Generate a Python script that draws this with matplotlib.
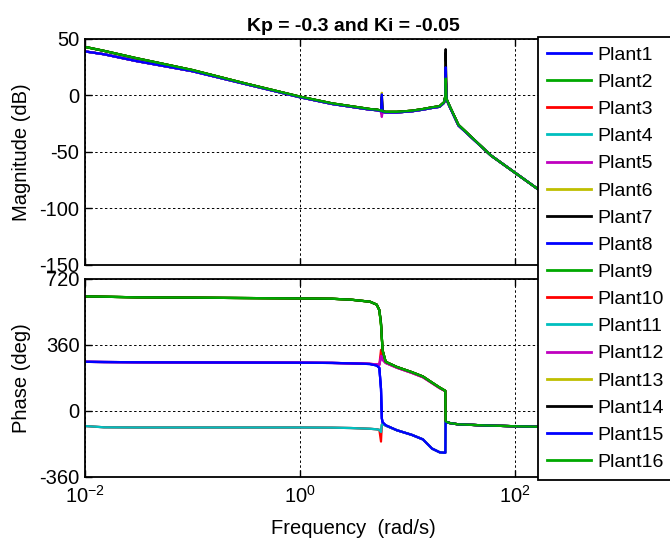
import numpy as np
import matplotlib
matplotlib.use("Agg")
import matplotlib.pyplot as plt
from matplotlib.ticker import FixedLocator, NullLocator

plt.rcParams["font.family"] = ["Liberation Sans", "DejaVu Sans"]
plt.rcParams["axes.unicode_minus"] = False

# frequency points (rad/s)
w = [0.01, 0.015, 0.03, 0.1, 0.3, 1, 2, 3, 4.5, 5.2, 5.5, 5.7, 5.8, 5.9, 6.3,
     8, 11, 14, 17, 20, 22, 22.6, 22.8, 23.2, 25, 30, 60, 160, 1000]

# magnitude (dB), two base shapes
mag_hi = [43, 39.5, 33, 22.5, 11, -1, -7, -9.5, -12, -12.5, -13, -13.5, -13.5, -14, -14.5,
          -14.5, -13.5, -12, -10.5, -9.5, -6, -1, -1, -3, -10, -26, -53, -82, -130]
mag_lo = [39, 36.5, 30.5, 21.5, 10.5, -1.5, -7.5, -10, -12.5, -13, -13.5, -14, -14, -14.5, -15,
          -15, -14, -12.5, -11, -10, -6.5, -1.5, -1.5, -3.5, -10.5, -26.5, -53, -82, -130]

# per plant values at 5.8 rad/s and at the 22.8 rad/s resonance
mag_spike = [-8, -14, -16, -15, -17, 0, -3, -10, -14, -16, -15, -19, 2.4, -1, 1, -13]
mag_peak = [20, 12, 18, 16, 20, 28, 38, 20, 14, 18, 16, 20, 30, 41, 25, 15]

# phase (deg), four shapes
phase_hi = [625, 623, 620, 618, 616, 614, 612, 607, 596, 580, 550, 470, 400, 330, 268,
            240, 212, 188, 155, 128, 114, 110, -55, -60, -66, -73, -80, -86, -90]
phase_mid_up = [268, 267, 266, 265, 264, 263, 262, 260, 257, 254, 252, 300, 300, 280, 262,
                236, 208, 184, 152, 125, 112, 108, -55, -60, -66, -73, -80, -86, -90]
phase_mid_down = [268, 267, 266, 265, 264, 263, 262, 260, 256, 248, 235, 120, -40, -62, -78,
                  -105, -130, -155, -205, -225, -228, -228, -58, -62, -66, -73, -80, -86, -90]
phase_lo_down = [-82, -89, -90, -90, -90, -90, -91, -93, -97, -100, -103, -120, -75, -70, -80,
                 -105, -130, -155, -205, -225, -228, -228, -58, -62, -66, -73, -80, -86, -90]

# per plant phase value at 5.7 rad/s
phase_spike = [120, 470, 333, -120, 300, 470, 480, 120, 470, -167, -115, 290, 470, 480, 120, 470]

mag_group = ["lo", "hi", "lo", "lo", "lo", "hi", "hi", "lo",
             "hi", "lo", "lo", "lo", "hi", "hi", "lo", "hi"]
phase_group = ["mid_down", "hi", "mid_up", "lo_down", "mid_up", "hi", "hi", "mid_down",
               "hi", "lo_down", "lo_down", "mid_up", "hi", "hi", "mid_down", "hi"]

names = ["Plant%d" % (i + 1) for i in range(16)]
colors = ["#0000ff", "#00a800", "#ff0000", "#00bfbf", "#bf00bf", "#bfbf00", "#000000"]

mag_curves = {"hi": mag_hi, "lo": mag_lo}
phase_curves = {"hi": phase_hi, "mid_up": phase_mid_up,
                "mid_down": phase_mid_down, "lo_down": phase_lo_down}

fig = plt.figure(figsize=(6.7, 5.4), dpi=100)
ax1 = fig.add_axes([0.1269, 0.5093, 0.8015, 0.4185])
ax2 = fig.add_axes([0.1269, 0.1167, 0.8015, 0.3667])

for i in range(16):
    mag = np.array(mag_curves[mag_group[i]], dtype=float)
    mag[12] = mag_spike[i]
    mag[22] = mag_peak[i]
    ph = np.array(phase_curves[phase_group[i]], dtype=float)
    ph[11] = phase_spike[i]
    c = colors[i % 7]
    ax1.semilogx(w, mag, color=c, lw=1.6, label=names[i])
    ax2.semilogx(w, ph, color=c, lw=1.6)

for ax in (ax1, ax2):
    ax.set_xlim(0.01, 1000)
    ax.xaxis.set_major_locator(FixedLocator([1e-2, 1e0, 1e2]))
    ax.xaxis.set_minor_locator(NullLocator())
    ax.grid(True, color="k", linestyle=(0, (2.5, 2.5)), linewidth=0.7)
    ax.tick_params(direction="in", top=True, right=True, length=5, width=1,
                   labelsize=14.5)
    ax.tick_params(axis="y", pad=4)
    ax.tick_params(axis="x", pad=6)
    for s in ax.spines.values():
        s.set_linewidth(1.3)

ax1.set_ylim(-150, 50)
ax1.set_yticks([-150, -100, -50, 0, 50])
ax1.tick_params(labelbottom=False)
ax1.set_ylabel("Magnitude (dB)", fontsize=14.5)
ax1.yaxis.set_label_coords(-0.1, 0.5)
ax1.set_title("Kp = -0.3 and Ki = -0.05", fontsize=14, fontweight="bold", pad=6)

ax2.set_ylim(-360, 720)
ax2.set_yticks([-360, 0, 360, 720])
ax2.set_ylabel("Phase (deg)", fontsize=14.5)
ax2.yaxis.set_label_coords(-0.1, 0.5)
ax2.set_xlabel("Frequency  (rad/s)", fontsize=14.5)
ax2.xaxis.set_label_coords(0.5, -0.21)

# legend sits over the right end of both axes and runs past the figure edge
leg = fig.legend(loc="upper left", bbox_to_anchor=(538 / 670, 0.1167, 0.3, 0.8139),
                 mode="expand", borderaxespad=0, fancybox=False, framealpha=1,
                 edgecolor="black", fontsize=14, handlelength=2.3, handletextpad=0.3,
                 labelspacing=0.49, borderpad=0.45)
leg.get_frame().set_linewidth(1.3)
for line in leg.get_lines():
    line.set_linewidth(2)

fig.savefig("out.png", dpi=100)
